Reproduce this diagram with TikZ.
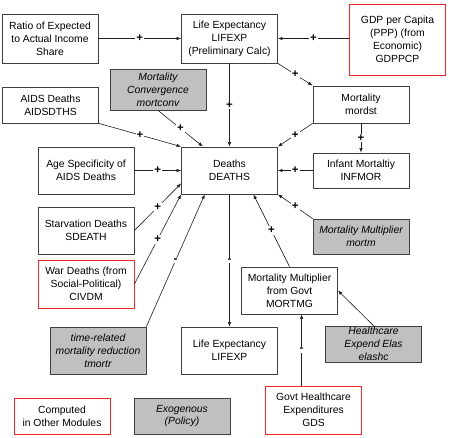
\documentclass[tikz,border=0pt]{standalone}
\usepackage{fontspec}
\setmainfont{Liberation Sans}
\usepackage{tikz}
\usetikzlibrary{arrows.meta, positioning, calc}
\definecolor{boxLine}{RGB}{64, 64, 64}
\definecolor{otherColor}{RGB}{240, 40, 40}
\definecolor{exoColor}{RGB}{192, 192, 192}
\definecolor{linkColor}{RGB}{30, 30, 30}

\begin{document}
\begin{tikzpicture}[x=1bp, y=-1bp,
        var/.style={rectangle, draw=boxLine, line width=0.8bp, fill=white, align=center,
            inner sep=0pt, minimum width=96bp, font=\fontsize{10.4}{13}\selectfont},
        other/.style={var, draw=otherColor},
        exo/.style={var, fill=exoColor, font=\fontsize{10.4}{13}\selectfont\itshape},
        link/.style={-{Latex[length=4.5bp, width=3.5bp]}, draw=linkColor, line width=0.6bp},
        sign/.style={midway, fill=white, inner sep=1bp, font=\fontsize{11.5}{11.5}\selectfont\bfseries}]
        \useasboundingbox (0,0) rectangle (449,438);

        % Top row
        \node[var, minimum height=49bp] (ratio) at (50,38.5) {Ratio of Expected\\to Actual Income\\Share};
        \node[var, minimum height=49bp] (lifep) at (229.5,38.5) {Life Expectancy\\LIFEXP\\(Preliminary Calc)};
        \node[other, minimum height=71bp] (gdp) at (397.5,39.5) {GDP per Capita\\(PPP) (from\\Economic)\\GDPPCP};

        % Left column
        \node[exo, minimum height=41bp] (conv) at (158,89.5) {Mortality\\Convergence\\mortconv};
        \node[var, minimum height=36bp] (aids) at (50.5,105) {AIDS Deaths\\AIDSDTHS};
        \node[var, minimum height=47bp] (age) at (86,170.5) {Age Specificity of\\AIDS Deaths};
        \node[var, minimum height=47bp] (starv) at (86,230.5) {Starvation Deaths\\SDEATH};
        \node[other, minimum height=48bp] (war) at (86,284) {War Deaths (from\\Social-Political)\\CIVDM};
        \node[exo, minimum height=47bp] (tmortr) at (98,350.5) {time-related\\mortality reduction\\tmortr};

        % Centre
        \node[var, minimum height=47bp] (deaths) at (229.5,170.5) {Deaths\\DEATHS};
        \node[var, minimum height=47bp] (lifexp) at (229.5,350.5) {Life Expectancy\\LIFEXP};

        % Right column
        \node[var, minimum height=37bp] (mordst) at (361,104.5) {Mortality\\mordst};
        \node[var, minimum height=35bp] (infmor) at (361,170.5) {Infant Mortaltiy\\INFMOR};
        \node[exo, minimum height=35bp] (mortm) at (361,236.5) {Mortality Multiplier\\mortm};
        \node[var, minimum height=47bp] (mortmg) at (289.5,290.5) {Mortality Multiplier\\from Govt\\MORTMG};
        \node[exo, minimum height=36bp] (elashc) at (373.5,344) {Healthcare\\Expend Elas\\elashc};
        \node[other, minimum height=48bp] (gds) at (313.5,410) {Govt Healthcare\\Expenditures\\GDS};

        % Legend
        \node[other, minimum height=36bp] (legother) at (62,416) {Computed\\in Other Modules};
        \node[exo, minimum height=36bp] (legexo) at (182,416) {Exogenous\\(Policy)};

        % Links
        \draw[link] (ratio) -- (lifep) node[sign] {+};
        \draw[link] (gdp.west |- lifep) -- (lifep) node[sign] {+};
        \draw[link] (lifep) -- (deaths) node[sign] {+};
        \draw[link] (lifep.south east) -- (mordst.north west) node[sign] {+};
        \draw[link] (mordst.south west) -- (deaths.north east) node[sign] {+};
        \draw[link] (mordst) -- (infmor) node[sign] {+};
        \draw[link] (infmor) -- (deaths) node[sign] {+};
        \draw[link] (mortm.north west) -- (deaths.south east) node[sign] {+};
        \draw[link] (mortmg.north) -- (deaths.-45) node[sign] {+};
        \draw[link] (aids.south east) -- (deaths.north west) node[sign] {+};
        \draw[link] (conv.south) -- (deaths.138) node[sign] {+};
        \draw[link] (age) -- (deaths) node[sign] {+};
        \draw[link] (starv.east) -- (deaths.195) node[sign] {+};
        \draw[link] (war.east) -- (deaths.south west) node[sign] {+};
        \draw[link] (tmortr.north east) -- (deaths.224) node[sign] {-};
        \draw[link] (deaths) -- (lifexp) node[sign] {-};
        \draw[link] (gds.116) -- (gds.116 |- mortmg.south) node[sign] {-};
        \draw[link] (elashc.north) -- (mortmg.east);
    \end{tikzpicture}
\end{document}
